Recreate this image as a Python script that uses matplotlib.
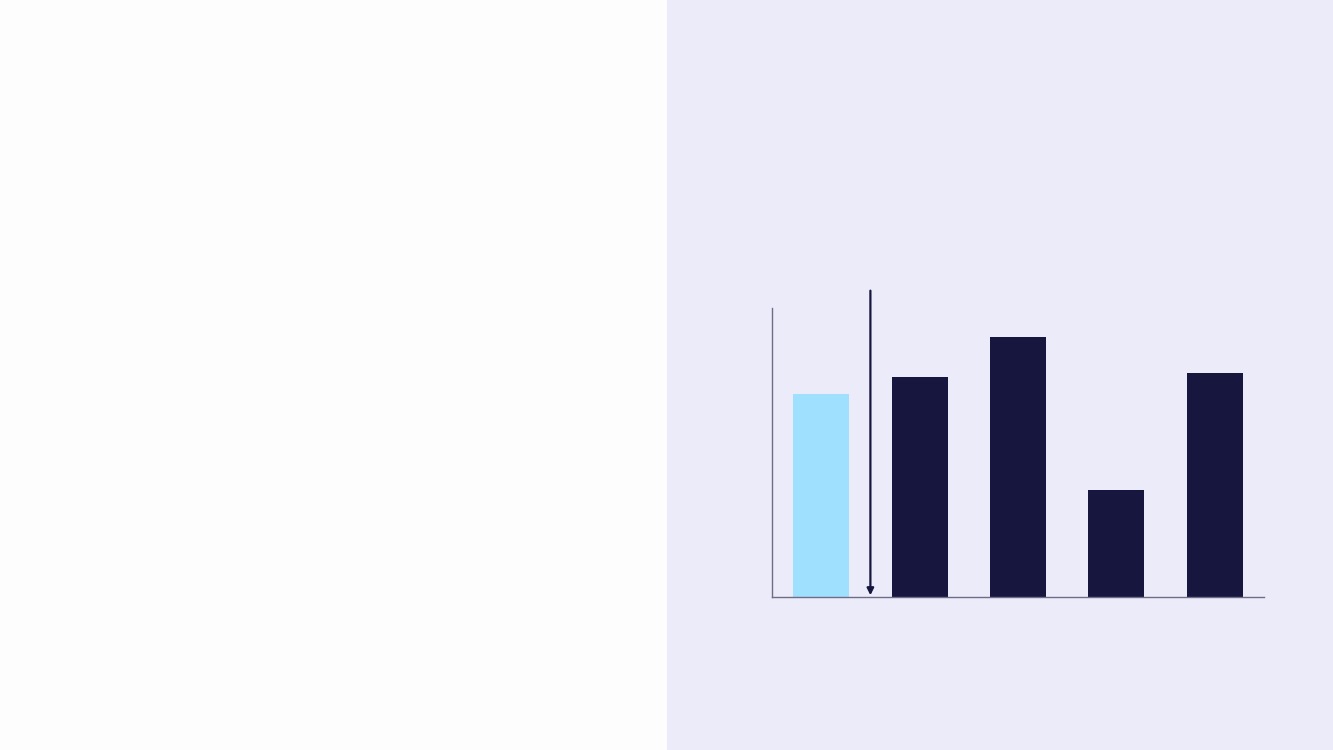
import matplotlib.pyplot as plt
from matplotlib.patches import Rectangle

# bar data (scale 0-100)
categories = ["A", "B", "C", "D", "E"]
values = [70.2, 76.1, 90.0, 37.0, 77.5]
colors = ["#A0E0FF", "#16163F", "#16163F", "#16163F", "#16163F"]
arrow_x = 0.5
arrow_from = 106.0
arrow_to = 0.6


def create_visualization():
    fig = plt.figure(figsize=(13.33, 7.5), dpi=100)
    fig.patch.set_facecolor("#FDFDFE")

    # lavender panel on the right half, kept behind the axes
    fig.patches.append(Rectangle((667 / 1333, 0), 666 / 1333, 1,
                                 transform=fig.transFigure,
                                 facecolor="#ECEBFA", edgecolor="none", zorder=-10))

    ax = fig.add_axes([772 / 1333, (750 - 597) / 750, 492 / 1333, 289 / 750])
    ax.set_facecolor("none")
    ax.set_zorder(1)

    xs = list(range(len(categories)))
    ax.bar(xs, values, width=0.57, color=colors, edgecolor="none", zorder=2)

    ax.set_xlim(-0.5, len(categories) - 0.5)
    ax.set_ylim(0, 100)

    ax.annotate("", xy=(arrow_x, arrow_to), xytext=(arrow_x, arrow_from),
                arrowprops=dict(arrowstyle="-|>", color="#16163F", lw=1.6,
                                mutation_scale=10, shrinkA=0, shrinkB=0),
                annotation_clip=False, zorder=3)

    for side in ["top", "right"]:
        ax.spines[side].set_visible(False)
    for side in ["left", "bottom"]:
        ax.spines[side].set_color("#6E6C87")
        ax.spines[side].set_linewidth(1.0)
    ax.set_xticks([])
    ax.set_yticks([])

    fig.savefig("out.png", dpi=100, facecolor=fig.get_facecolor())


if __name__ == "__main__":
    create_visualization()
